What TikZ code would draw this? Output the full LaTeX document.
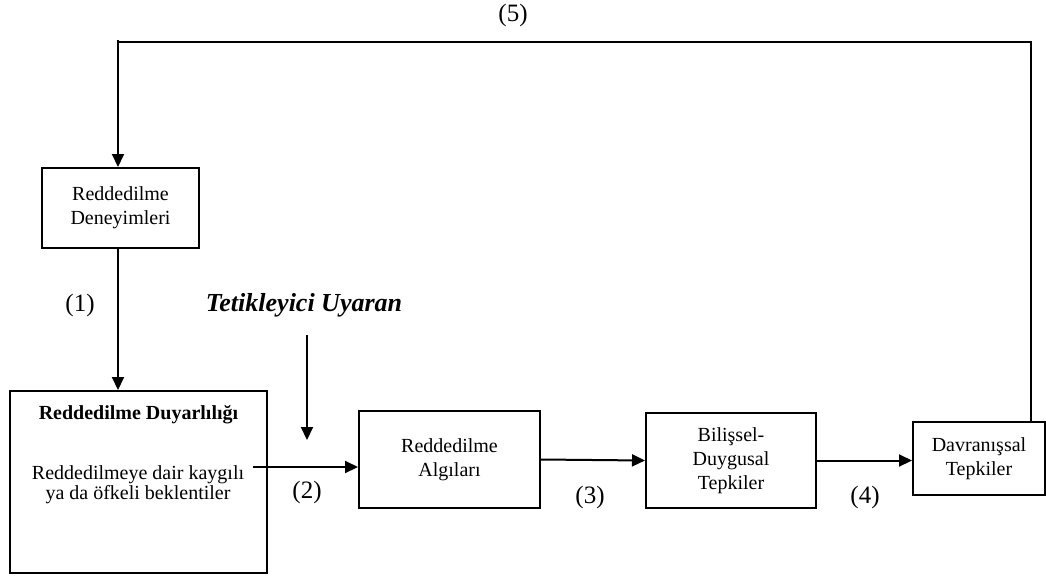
\documentclass[tikz,border=0pt]{standalone}
\usepackage{fontspec}
\setmainfont{Liberation Serif}
\usetikzlibrary{arrows.meta}
\begin{document}
\begin{tikzpicture}[x=1pt,y=-1pt,
  box/.style={draw=black,line width=2pt,inner sep=0pt,align=center,font=\fontsize{20}{24}\selectfont},
  arr/.style={line width=2pt,-{Triangle[length=13pt,width=12pt]}},
  lbl/.style={inner sep=0pt,font=\fontsize{25}{30}\selectfont},
  txt/.style={inner sep=0pt,align=center,font=\fontsize{20}{20}\selectfont}]
\useasboundingbox (0,0) rectangle (1046,579);
\node[box,minimum width=157pt,minimum height=80pt] (A) at (120.5,208) {Reddedilme\\Deneyimleri};
\node[box,minimum width=257pt,minimum height=182pt] (B) at (138.5,482) {};
\node[txt,font=\fontsize{20}{24}\selectfont\bfseries] (Bt) at (138.5,415) {Reddedilme Duyarlılığı};
\node[txt] (Bb) at (138,485) {Reddedilmeye dair kaygılı\\ya da öfkeli beklentiler};
\node[box,minimum width=181pt,minimum height=97pt] (C) at (449.5,459.5) {Reddedilme\\Algıları};
\node[box,minimum width=170pt,minimum height=95pt] (D) at (731,460.5) {Bilişsel-\\Duygusal\\Tepkiler};
\node[box,minimum width=132pt,minimum height=73pt] (E) at (979,458.5) {Davranışsal\\Tepkiler};
\node[inner sep=0pt,font=\fontsize{26}{30}\selectfont\bfseries\itshape] (T) at (304,305) {Tetikleyici Uyaran};
\node[lbl] (L1) at (80,305) {(1)};
\node[lbl] (L2) at (307,492) {(2)};
\node[lbl] (L3) at (590,497) {(3)};
\node[lbl] (L4) at (865,497) {(4)};
\node[lbl] (L5) at (513,15) {(5)};
\coordinate (fbtop) at (118,40);
\coordinate (fbR) at (1031,42);
\coordinate (fbL) at (118,42);
\coordinate (t1) at (307,335);
\coordinate (t2) at (307,440);
\coordinate (b2) at (253,467);
\draw[line width=2pt] (E.north -| fbR) -- (fbR) -- (fbL);
\draw[arr] (fbtop) -- (A.north -| fbtop);
\draw[arr] (A.south -| fbtop) -- (B.north -| fbtop);
\draw[arr] (t1) -- (t2);
\draw[arr] (b2) -- (b2 -| C.west);
\draw[arr] (C.east) -- (D.west);
\draw[arr] (D.east) -- (D.east -| E.west);
\end{tikzpicture}
\end{document}
